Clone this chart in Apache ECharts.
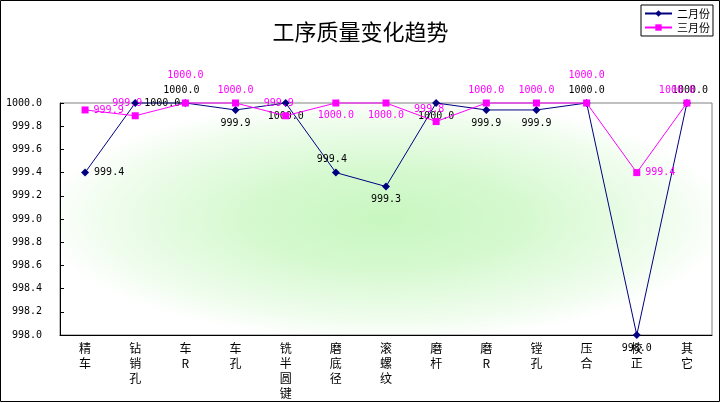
<!DOCTYPE html>
<html>
<head>
<meta charset="utf-8">
<script src="https://cdn.jsdelivr.net/npm/echarts@6/dist/echarts.min.js"></script>
<style>
  html, body { margin: 0; padding: 0; background: #fff; }
  #main { width: 721px; height: 403px; }
</style>
</head>
<body>
<div id="main"></div>
<script>
// 工序质量变化趋势
var categories = ['精车', '钻销孔', '车R', '车孔', '铣半圆键', '磨底径', '滚螺纹', '磨杆', '磨R', '镗孔', '压合', '校正', '其它'];
var febValues = [999.4, 1000.0, 1000.0, 999.94, 1000.0, 999.4, 999.28, 1000.0, 999.94, 999.94, 1000.0, 998.0, 1000.0];
var marValues = [999.94, 999.89, 1000.0, 1000.0, 999.89, 1000.0, 1000.0, 999.84, 1000.0, 1000.0, 1000.0, 999.4, 1000.0];
var seriesNames = ['二月份', '三月份'];

// label placement for each point (where the numbers sit round the markers)
var febLabelPos = ['right', 'right', 'top', 'bottom', 'bottom', 'top', 'bottom', 'bottom', 'bottom', 'bottom', 'top', 'bottom', 'top'];
var febLabelShift = [0, 0, -4, 0, 0, -4, 0, 0, 0, 0, 0, 0, 3];
var marLabelPos = ['right', 'top', 'top', 'top', 'top', 'bottom', 'bottom', 'top', 'top', 'top', 'top', 'right', 'top'];
var marLabelDist = [5, 4, 19, 4, 4, 4, 4, 4, 4, 4, 19, 5, 4];
var marLabelShift = [0, -8, 0, 0, -7, 0, 0, -7, 0, 0, 0, 0, -10];

var monoFont = 'DejaVu Sans Mono';
var cjkFont = 'Noto Sans CJK SC';

function buildData(values, positions, shifts, dists) {
  return values.map(function (v, i) {
    return {
      value: v,
      label: {
        position: positions[i],
        distance: dists ? dists[i] : (positions[i] === 'right' ? 5 : 4),
        offset: [shifts[i], 0]
      }
    };
  });
}

var chart = echarts.init(document.getElementById('main'));

var option = {
  animation: false,
  backgroundColor: '#fff',
  title: {
    text: '工序质量变化趋势',
    left: 'center',
    top: 21,
    padding: 0,
    textStyle: {
      fontFamily: cjkFont,
      fontSize: 22,
      fontWeight: 'normal',
      color: '#000'
    }
  },
  legend: {
    orient: 'vertical',
    left: 641,
    top: 5,
    padding: [3, 3, 3, 3],
    itemGap: 3,
    itemWidth: 27,
    itemHeight: 8,
    borderColor: '#000',
    borderWidth: 1,
    borderRadius: 0,
    backgroundColor: '#fff',
    data: seriesNames,
    textStyle: {
      fontFamily: cjkFont,
      fontSize: 11,
      color: '#000'
    }
  },
  graphic: [
    {
      // plot area fill: light green from the centre fading to white
      type: 'rect',
      z: -1,
      silent: true,
      x: 60,
      y: 103,
      scaleY: 232 / 652,
      shape: { x: 0, y: 0, width: 652, height: 652 },
      style: {
        fill: new echarts.graphic.RadialGradient(0.5, 0.5, 0.62, [
          { offset: 0, color: '#c8f7c0' },
          { offset: 0.35, color: '#d6f9d0' },
          { offset: 0.7, color: '#f0fdee' },
          { offset: 0.85, color: '#ffffff' },
          { offset: 1, color: '#ffffff' }
        ])
      }
    },
    {
      type: 'rect',
      silent: true,
      shape: { x: 0.5, y: 0.5, width: 719, height: 401 },
      style: { fill: 'none', stroke: '#000', lineWidth: 1 }
    }
  ],
  grid: {
    left: 60,
    top: 103,
    right: 9,
    bottom: 68,
    show: true,
    borderColor: '#808080',
    borderWidth: 1,
    backgroundColor: 'transparent'
  },
  xAxis: {
    type: 'category',
    data: categories,
    boundaryGap: true,
    axisLine: { lineStyle: { color: '#000', width: 1 } },
    axisTick: { inside: true, length: 3, lineStyle: { color: '#000' } },
    axisLabel: {
      interval: 0,
      margin: 6,
      color: '#000',
      fontFamily: cjkFont,
      fontSize: 12,
      lineHeight: 15,
      formatter: function (v) {
        return v.split('').join('\n');
      }
    },
    splitLine: { show: false }
  },
  yAxis: {
    type: 'value',
    min: 998,
    max: 1000,
    interval: 0.2,
    axisLine: { show: true, lineStyle: { color: '#000', width: 1 } },
    axisTick: { show: true, inside: true, length: 4, lineStyle: { color: '#000' } },
    axisLabel: {
      margin: 18,
      color: '#000',
      fontFamily: monoFont,
      fontSize: 10,
      formatter: function (v) {
        return v.toFixed(1);
      }
    },
    splitLine: { show: false }
  },
  series: [
    {
      name: seriesNames[0],
      type: 'line',
      data: buildData(febValues, febLabelPos, febLabelShift),
      clip: false,
      symbol: 'diamond',
      symbolSize: 8,
      color: '#000080',
      lineStyle: { color: '#000080', width: 1 },
      itemStyle: { color: '#000080' },
      label: {
        show: true,
        color: '#000',
        fontFamily: monoFont,
        fontSize: 10,
        formatter: function (p) {
          return p.value.toFixed(1);
        }
      },
      z: 3
    },
    {
      name: seriesNames[1],
      type: 'line',
      data: buildData(marValues, marLabelPos, marLabelShift, marLabelDist),
      clip: false,
      symbol: 'rect',
      symbolSize: 7,
      color: '#ff00ff',
      lineStyle: { color: '#ff00ff', width: 1 },
      itemStyle: { color: '#ff00ff' },
      label: {
        show: true,
        color: '#ff00ff',
        fontFamily: monoFont,
        fontSize: 10,
        formatter: function (p) {
          return p.value.toFixed(1);
        }
      },
      z: 4
    }
  ]
};

chart.setOption(option);
</script>
</body>
</html>
